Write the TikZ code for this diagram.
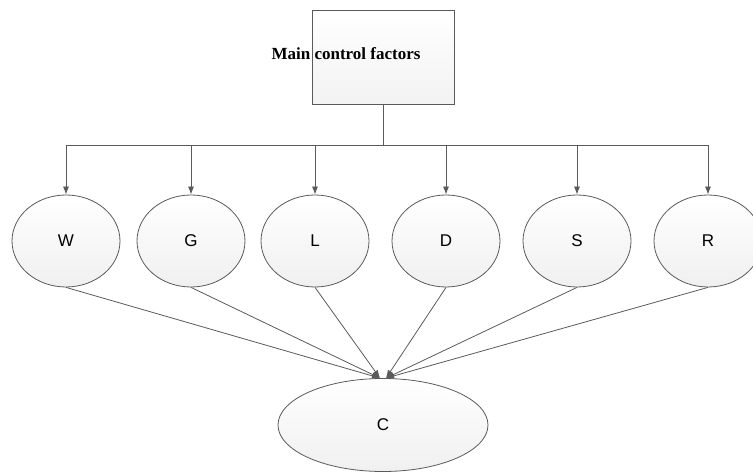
\documentclass[tikz,border=0pt]{standalone}
\usepackage{fontspec}
\setmainfont{Liberation Serif}
\setsansfont{Liberation Sans}
\usetikzlibrary{shapes.geometric, arrows.meta}
\definecolor{linegray}{HTML}{5A5A5A}
\tikzstyle{arrow} = [line width=0.8pt, linegray, -{Latex[length=8pt,width=6pt]}]
\tikzstyle{factor} = [ellipse, draw=linegray, line width=0.8pt, top color=white, bottom color=gray!12, inner sep=0pt, font=\sffamily\fontsize{17}{17}\selectfont]

\begin{document}
\begin{tikzpicture}[x=1pt, y=-1pt]
        \useasboundingbox (0,0) rectangle (753,473);

        \node at (383,57) [draw=linegray, line width=0.8pt, top color=white, bottom color=gray!10, minimum width=142pt, minimum height=94pt](main) {};
        \node at (346,54) [font=\bfseries\fontsize{17}{17}\selectfont](maintext) {Main control factors};

        \node at (66,241) [factor, minimum width=108pt, minimum height=92pt](W) {W};
        \node at (191,241) [factor, minimum width=108pt, minimum height=92pt](G) {G};
        \node at (315,241) [factor, minimum width=108pt, minimum height=92pt](L) {L};
        \node at (446,241) [factor, minimum width=108pt, minimum height=92pt](D) {D};
        \node at (577,241) [factor, minimum width=108pt, minimum height=92pt](S) {S};
        \node at (708,241) [factor, minimum width=108pt, minimum height=92pt](R) {R};

        \node at (383,425) [factor, minimum width=210pt, minimum height=93pt](C) {C};

        \coordinate (split) at (383,145);
        \coordinate (cleft) at ([xshift=-3pt]C.north);
        \coordinate (cright) at ([xshift=3pt]C.north);

        \draw [line width=0.8pt, linegray] (main.south) -- (split);
        \draw [arrow] (split) -| (W.north);
        \draw [arrow] (split) -| (G.north);
        \draw [arrow] (split) -| (L.north);
        \draw [arrow] (split) -| (D.north);
        \draw [arrow] (split) -| (S.north);
        \draw [arrow] (split) -| (R.north);

        \draw [arrow] (W.south) -- (cleft);
        \draw [arrow] (G.south) -- (cleft);
        \draw [arrow] (L.south) -- (cleft);
        \draw [arrow] (D.south) -- (cright);
        \draw [arrow] (S.south) -- (cright);
        \draw [arrow] (R.south) -- (cright);

    \end{tikzpicture}
\end{document}
